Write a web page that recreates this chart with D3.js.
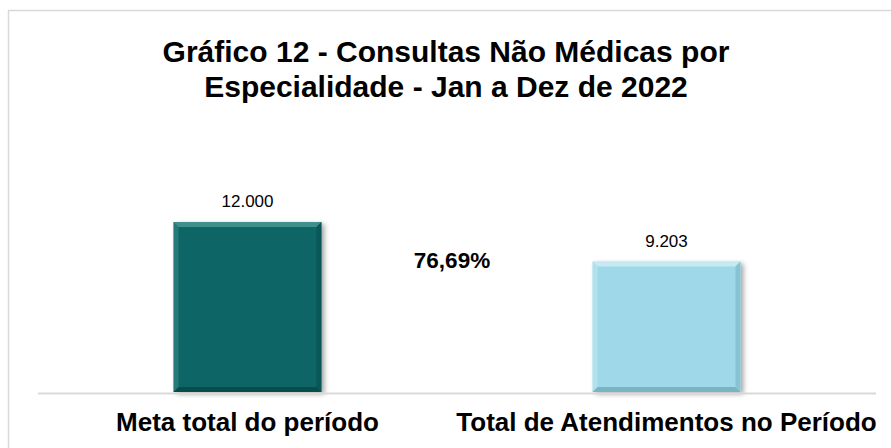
<!DOCTYPE html>
<html>
<head>
  <meta charset="utf-8">
  <title>Gráfico 12</title>
  <script src="https://d3js.org/d3.v7.min.js"></script>
  <style>
  body {
    margin: 0;
    background: white;
  }
  text {
    font-family: "Liberation Sans", Arial, sans-serif;
    fill: black;
  }
  .title {
    font-size: 30px;
    font-weight: bold;
  }
  .catLabel {
    font-size: 26px;
    font-weight: bold;
  }
  .valLabel {
    font-size: 17px;
  }
  .pct {
    font-size: 22.5px;
    font-weight: bold;
  }
  </style>
</head>
<body>
<div id='container'></div>

<script>

  var categories = ['Meta total do período', 'Total de Atendimentos no Período']
  var values = [12000, 9203]
  var valueLabels = ['12.000', '9.203']
  var percentLabel = '76,69%'
  var titleLines = ['Gráfico 12 - Consultas Não Médicas por', 'Especialidade - Jan a Dez de 2022']

  const width = 891
  const height = 448

  // base colour, light edge, dark edge for each bar
  var barColors = [
    {main: '#0a6665', light: '#3f8f8d', dark: '#064d4c'},
    {main: '#9fd9e9', light: '#c6eaf3', dark: '#79b4c4'}
  ]

  var svg = d3.select('#container')
    .append('svg')
    .attr('width', width)
    .attr('height', height)

  var defs = svg.append('defs')
  var shadow = defs.append('filter')
    .attr('id', 'shadow')
    .attr('x', '-20%').attr('y', '-20%')
    .attr('width', '140%').attr('height', '140%')
  shadow.append('feDropShadow')
    .attr('dx', 3).attr('dy', 2)
    .attr('stdDeviation', 2.5)
    .attr('flood-color', '#000')
    .attr('flood-opacity', 0.35)

  // outer frame
  svg.append('rect')
    .attr('x', 8.5)
    .attr('y', 10.5)
    .attr('width', 900)
    .attr('height', 460)
    .style('fill', 'none')
    .style('stroke', '#d9d9d9')
    .style('stroke-width', 1.5)

  // title
  svg.selectAll('.title')
    .data(titleLines)
    .enter()
    .append('text')
    .attr('class', 'title')
    .attr('x', 446)
    .attr('y', (d, i) => 62 + i * 35)
    .attr('text-anchor', 'middle')
    .text(d => d)

  var plotLeft = 38
  var plotRight = 876
  var baseY = 392

  var xScale = d3.scaleBand()
    .domain(categories)
    .range([plotLeft, plotRight])
    .paddingInner(0.647)
    .paddingOuter(0.3235)

  var yScale = d3.scaleLinear()
    .domain([0, 12000])
    .range([baseY, 222])

  var bevel = 5

  var bars = svg.selectAll('.barG')
    .data(values)
    .enter()
    .append('g')
    .attr('class', 'barG')

  bars.each(function(v, i) {
    var g = d3.select(this)
    var x0 = xScale(categories[i])
    var x1 = x0 + xScale.bandwidth()
    var y0 = yScale(v)
    var y1 = yScale(0)
    var c = barColors[i]

    g.append('rect')
      .attr('x', x0)
      .attr('y', y0)
      .attr('width', x1 - x0)
      .attr('height', y1 - y0)
      .style('fill', c.main)
      .attr('filter', 'url(#shadow)')

    var b = bevel
    var pts = (arr) => arr.map(p => p.join(',')).join(' ')
    // top
    g.append('polygon')
      .attr('points', pts([[x0, y0], [x1, y0], [x1 - b, y0 + b], [x0 + b, y0 + b]]))
      .style('fill', c.light)
    // left
    g.append('polygon')
      .attr('points', pts([[x0, y0], [x0 + b, y0 + b], [x0 + b, y1 - b], [x0, y1]]))
      .style('fill', c.light)
      .style('opacity', 0.5)
    // right
    g.append('polygon')
      .attr('points', pts([[x1, y0], [x1, y1], [x1 - b, y1 - b], [x1 - b, y0 + b]]))
      .style('fill', c.dark)
      .style('opacity', 0.6)
    // bottom
    g.append('polygon')
      .attr('points', pts([[x0, y1], [x1, y1], [x1 - b, y1 - b], [x0 + b, y1 - b]]))
      .style('fill', c.dark)

    g.append('text')
      .attr('class', 'valLabel')
      .attr('x', (x0 + x1) / 2)
      .attr('y', y0 - 15)
      .attr('text-anchor', 'middle')
      .text(valueLabels[i])
  })

  // axis baseline
  svg.append('line')
    .attr('x1', plotLeft)
    .attr('x2', plotRight)
    .attr('y1', baseY + 1.5)
    .attr('y2', baseY + 1.5)
    .style('stroke', '#d9d9d9')
    .style('stroke-width', 2)

  // category labels
  svg.selectAll('.catLabel')
    .data(categories)
    .enter()
    .append('text')
    .attr('class', 'catLabel')
    .attr('x', d => xScale(d) + xScale.bandwidth() / 2)
    .attr('y', 431)
    .attr('text-anchor', 'middle')
    .text(d => d)

  // percentage between bars
  svg.append('text')
    .attr('class', 'pct')
    .attr('x', 452)
    .attr('y', 268)
    .attr('text-anchor', 'middle')
    .text(percentLabel)

</script>
</body>
</html>
